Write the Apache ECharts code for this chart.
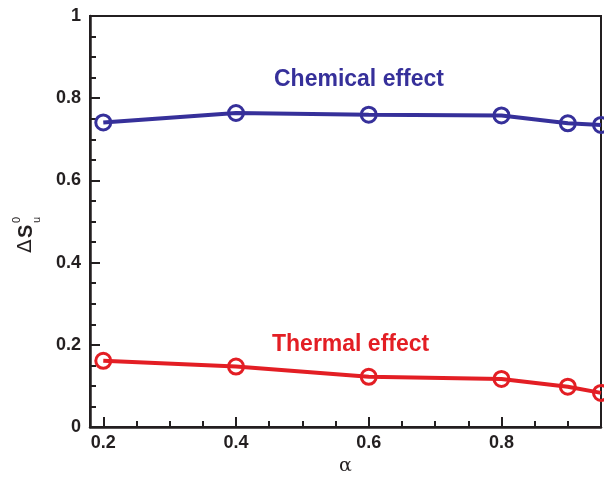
<!DOCTYPE html>
<html>
<head>
<meta charset="utf-8">
<script src="https://cdn.jsdelivr.net/npm/echarts@6/dist/echarts.min.js"></script>
<style>
  html, body { margin: 0; padding: 0; background: #fff; }
  #chart { width: 604px; height: 477px; }
</style>
</head>
<body>
<div id="chart"></div>
<script>
const alpha = [0.2, 0.4, 0.6, 0.8, 0.9, 0.95];
const chemical = [0.741, 0.764, 0.760, 0.758, 0.739, 0.735];
const thermal = [0.161, 0.147, 0.122, 0.117, 0.098, 0.083];
const majorTicksX = [0.2, 0.4, 0.6, 0.8];
const minorTicksX = [0.25, 0.3, 0.35, 0.45, 0.5, 0.55, 0.65, 0.7, 0.75, 0.85, 0.9];

const ink = "#231f20";
const blue = "#36309a";
const red = "#e31e24";
const font = "Liberation Sans";

const pair = (xs, ys) => xs.map((x, i) => [x, ys[i]]);

const chart = echarts.init(document.getElementById("chart"));

chart.setOption({
  animation: false,
  grid: {
    left: 90, right: 3, top: 16, bottom: 50,
    outerBoundsMode: "none",
    containLabel: false,
    show: true, borderColor: ink, borderWidth: 2,
  },
  xAxis: [
    {
      type: "value",
      min: 0.18,
      max: 0.95,
      name: "α",
      nameLocation: "middle",
      nameGap: 29,
      nameTextStyle: { fontFamily: "DejaVu Serif", fontSize: 19, color: ink },
      axisLine: { lineStyle: { color: ink, width: 2.5 } },
      axisTick: { inside: true, length: 10, customValues: majorTicksX, lineStyle: { color: ink, width: 2 } },
      axisLabel: {
        customValues: majorTicksX,
        formatter: (v) => String(v),
        color: ink, fontFamily: font, fontWeight: "bold", fontSize: 18, margin: 7,
      },
      splitLine: { show: false },
    },
    {
      type: "value",
      min: 0.18,
      max: 0.95,
      position: "bottom",
      axisLine: { show: false },
      axisTick: { inside: true, length: 6, customValues: minorTicksX, lineStyle: { color: ink, width: 2 } },
      axisLabel: { show: false },
      splitLine: { show: false },
    },
  ],
  yAxis: {
    type: "value",
    min: 0,
    max: 1,
    interval: 0.2,
    axisLine: { show: true, lineStyle: { color: ink, width: 2.5 } },
    axisTick: { show: true, inside: true, length: 10, lineStyle: { color: ink, width: 2 } },
    minorTick: { show: true, splitNumber: 4, length: 6, lineStyle: { color: ink, width: 2 } },
    axisLabel: {
      formatter: (v) => String(v),
      color: ink, fontFamily: font, fontWeight: "bold", fontSize: 18, margin: 9,
    },
    splitLine: { show: false },
  },
  series: [
    {
      type: "line",
      name: "Chemical effect",
      data: pair(alpha, chemical),
      color: blue,
      symbol: "circle",
      symbolSize: 15,
      showAllSymbol: true,
      itemStyle: { color: "rgba(255,255,255,0)", borderColor: blue, borderWidth: 3 },
      lineStyle: { color: blue, width: 4 },
      z: 3,
    },
    {
      type: "line",
      name: "Thermal effect",
      data: pair(alpha, thermal),
      color: red,
      symbol: "circle",
      symbolSize: 15,
      showAllSymbol: true,
      itemStyle: { color: "rgba(255,255,255,0)", borderColor: red, borderWidth: 3 },
      lineStyle: { color: red, width: 4 },
      z: 3,
    },
  ],
  graphic: [
    {
      type: "text",
      left: 274, top: 68,
      style: { text: "Chemical effect", fill: blue, font: "bold 23px 'Liberation Sans'" },
    },
    {
      type: "text",
      left: 272, top: 333,
      style: { text: "Thermal effect", fill: red, font: "bold 23px 'Liberation Sans'" },
    },
    {
      type: "group",
      x: 36, y: 253,
      rotation: Math.PI / 2,
      children: [
        { type: "text", x: 0, y: 0, style: { text: "Δ", fill: ink, font: "normal 20px 'DejaVu Sans'", textVerticalAlign: "bottom" } },
        { type: "text", x: 15, y: 0, style: { text: "S", fill: ink, font: "bold 20px 'Liberation Sans'", textVerticalAlign: "bottom" } },
        { type: "text", x: 30, y: -14, style: { text: "0", fill: ink, font: "normal 11px 'Liberation Sans'", textVerticalAlign: "bottom" } },
        { type: "text", x: 30, y: 6, style: { text: "u", fill: ink, font: "normal 11px 'Liberation Sans'", textVerticalAlign: "bottom" } },
      ],
    },
  ],
});
</script>
</body>
</html>
